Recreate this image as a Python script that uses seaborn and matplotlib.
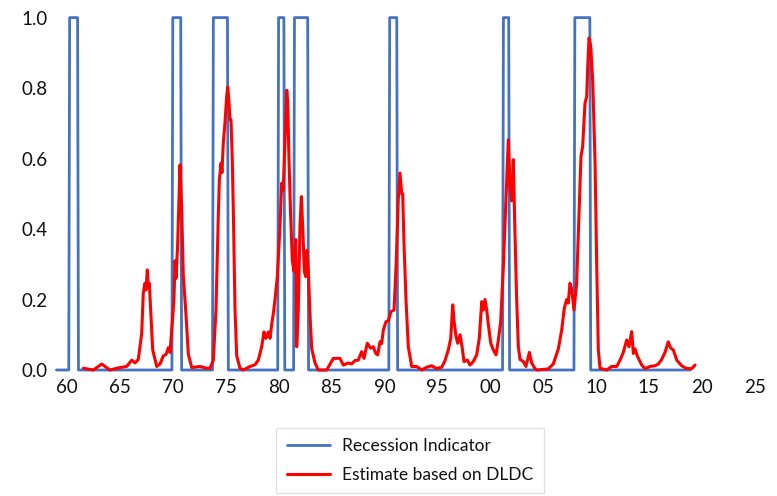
import numpy as np
import pandas as pd
import matplotlib
matplotlib.use("Agg")
import matplotlib.pyplot as plt
from matplotlib.ticker import FixedLocator
import seaborn as sns

# NBER recession periods (first and last month, as decimal years)
recession_start = [1960.25, 1969.917, 1973.833, 1980.0, 1981.5, 1990.5, 2001.167, 2007.917]
recession_end = [1961.083, 1970.833, 1975.167, 1980.5, 1982.833, 1991.167, 2001.833, 2009.417]
indicator_first_year = 1959
indicator_last_year = 2018

# Estimated recession probability based on DLDC
est_year = [
    1961.54, 1962.49, 1963.28, 1964.06, 1965.01, 1965.64, 1966.12, 1966.43, 1966.74,
    1967.06, 1967.21, 1967.37, 1967.47, 1967.59, 1967.68, 1967.78, 1967.91, 1968.10,
    1968.48, 1968.79, 1969.10, 1969.36, 1969.57, 1969.74, 1969.90, 1970.11, 1970.21,
    1970.30, 1970.45, 1970.58, 1970.68, 1970.84, 1970.99, 1971.25, 1971.47, 1971.79,
    1972.57, 1973.20, 1973.52, 1973.83, 1974.08, 1974.30, 1974.40, 1974.56, 1974.65,
    1974.77, 1974.93, 1975.09, 1975.19, 1975.31, 1975.41, 1975.50, 1975.62, 1975.72,
    1975.88, 1976.04, 1976.35, 1976.66, 1977.30, 1977.77, 1978.08, 1978.40, 1978.62,
    1978.81, 1979.03, 1979.19, 1979.35, 1979.50, 1979.66, 1979.88, 1980.13, 1980.29,
    1980.44, 1980.60, 1980.77, 1980.86, 1980.98, 1981.14, 1981.30, 1981.46, 1981.62,
    1981.71, 1981.86, 1982.02, 1982.15, 1982.28, 1982.43, 1982.56, 1982.66, 1982.81,
    1982.97, 1983.13, 1983.44, 1983.75, 1984.55, 1985.17, 1985.49, 1985.80, 1986.12,
    1986.59, 1986.91, 1987.22, 1987.53, 1987.85, 1988.07, 1988.38, 1988.70, 1988.95,
    1989.18, 1989.37, 1989.58, 1989.74, 1989.90, 1990.15, 1990.37, 1990.62, 1990.91,
    1991.10, 1991.31, 1991.47, 1991.64, 1991.73, 1991.85, 1992.04, 1992.26, 1992.58,
    1993.05, 1993.53, 1994.00, 1994.47, 1994.94, 1995.42, 1995.73, 1996.04, 1996.27,
    1996.46, 1996.58, 1996.77, 1996.93, 1997.15, 1997.36, 1997.52, 1997.84, 1998.09,
    1998.40, 1998.72, 1998.97, 1999.20, 1999.35, 1999.51, 1999.67, 1999.82, 2000.05,
    2000.29, 2000.55, 2000.77, 2000.99, 2001.24, 2001.49, 2001.71, 2001.87, 2002.03,
    2002.18, 2002.34, 2002.50, 2002.66, 2002.82, 2003.13, 2003.38, 2003.70, 2003.92,
    2004.23, 2004.40, 2005.49, 2005.96, 2006.44, 2006.76, 2007.00, 2007.23, 2007.38,
    2007.54, 2007.70, 2007.92, 2008.17, 2008.39, 2008.58, 2008.74, 2008.96, 2009.12,
    2009.22, 2009.34, 2009.50, 2009.69, 2009.91, 2010.07, 2010.22, 2010.38, 2011.01,
    2011.48, 2011.96, 2012.27, 2012.58, 2012.90, 2013.12, 2013.37, 2013.53, 2013.69,
    2013.90, 2014.32, 2014.63, 2015.10, 2015.58, 2015.89, 2016.21, 2016.52, 2016.83,
    2017.06, 2017.31, 2017.63, 2018.10, 2018.57, 2019.05, 2019.36,
]
est_prob = [
    0.005, 0.000, 0.017, 0.000, 0.007, 0.010, 0.028, 0.020, 0.030,
    0.104, 0.218, 0.246, 0.227, 0.284, 0.237, 0.246, 0.170, 0.057,
    0.010, 0.017, 0.040, 0.044, 0.063, 0.050, 0.114, 0.200, 0.310,
    0.260, 0.350, 0.480, 0.582, 0.455, 0.270, 0.155, 0.044, 0.007,
    0.010, 0.005, 0.005, 0.028, 0.170, 0.435, 0.540, 0.587, 0.560,
    0.644, 0.700, 0.776, 0.803, 0.760, 0.710, 0.710, 0.600, 0.455,
    0.170, 0.040, 0.005, 0.000, 0.010, 0.015, 0.028, 0.066, 0.108,
    0.090, 0.108, 0.090, 0.130, 0.160, 0.200, 0.265, 0.407, 0.530,
    0.510, 0.644, 0.794, 0.760, 0.600, 0.435, 0.310, 0.280, 0.370,
    0.066, 0.170, 0.407, 0.492, 0.407, 0.280, 0.265, 0.340, 0.280,
    0.155, 0.060, 0.020, 0.000, 0.000, 0.033, 0.033, 0.033, 0.014,
    0.020, 0.017, 0.027, 0.028, 0.052, 0.033, 0.076, 0.062, 0.066,
    0.047, 0.043, 0.080, 0.075, 0.114, 0.137, 0.140, 0.166, 0.170,
    0.293, 0.483, 0.559, 0.500, 0.500, 0.360, 0.200, 0.066, 0.010,
    0.010, 0.000, 0.008, 0.012, 0.004, 0.008, 0.027, 0.057, 0.090,
    0.185, 0.140, 0.095, 0.076, 0.100, 0.062, 0.024, 0.028, 0.014,
    0.024, 0.043, 0.090, 0.194, 0.170, 0.200, 0.170, 0.130, 0.076,
    0.057, 0.043, 0.085, 0.137, 0.293, 0.483, 0.653, 0.520, 0.480,
    0.597, 0.390, 0.200, 0.066, 0.030, 0.024, 0.010, 0.050, 0.020,
    0.004, 0.000, 0.003, 0.017, 0.060, 0.114, 0.175, 0.200, 0.190,
    0.246, 0.230, 0.170, 0.246, 0.435, 0.606, 0.635, 0.757, 0.776,
    0.862, 0.942, 0.920, 0.820, 0.590, 0.293, 0.057, 0.005, 0.000,
    0.010, 0.010, 0.028, 0.050, 0.085, 0.066, 0.109, 0.047, 0.060,
    0.040, 0.014, 0.004, 0.010, 0.012, 0.017, 0.030, 0.050, 0.080,
    0.062, 0.057, 0.028, 0.012, 0.004, 0.004, 0.014,
]

tick_years = list(range(1960, 2030, 5))
tick_labels = ["60", "65", "70", "75", "80", "85", "90", "95",
               "00", "05", "10", "15", "20", "25"]
y_ticks = [0.0, 0.2, 0.4, 0.6, 0.8, 1.0]

# Monthly recession indicator series
months = indicator_first_year + np.arange((indicator_last_year - indicator_first_year + 1) * 12) / 12.0
flag = np.zeros_like(months)
for s, e in zip(recession_start, recession_end):
    flag[(months >= s - 1e-6) & (months <= e + 1e-6)] = 1.0
indicator = pd.DataFrame({"year": months, "value": flag})
estimate = pd.DataFrame({"year": est_year, "value": est_prob})

sns.set_theme(style="white")
plt.rcParams["font.family"] = ["Lato", "DejaVu Sans"]

W, H = 777, 496
fig = plt.figure(figsize=(W / 100, H / 100), dpi=100)
left, right, top, bottom = 56.7, 764, 17.6, 370
ax = fig.add_axes([left / W, 1 - bottom / H, (right - left) / W, (bottom - top) / H])

sns.lineplot(data=indicator, x="year", y="value", ax=ax, color="#4472C4",
             linewidth=2.0, label="Recession Indicator", estimator=None)
sns.lineplot(data=estimate, x="year", y="value", ax=ax, color="#FF0000",
             linewidth=2.2, label="Estimate based on DLDC", estimator=None)
for ln in ax.get_lines():
    ln.set_clip_on(False)

x0 = 1960 + (left - 67) / 10.58
x1 = 1960 + (right - 67) / 10.58
ax.set_xlim(x0, x1)
ax.set_ylim(0, 1)

ax.xaxis.set_major_locator(FixedLocator(tick_years))
ax.set_xticklabels(tick_labels)
ax.xaxis.set_minor_locator(FixedLocator(list(range(1960, 2030, 10))))
ax.yaxis.set_major_locator(FixedLocator(y_ticks))
ax.set_yticklabels([f"{v:.1f}" for v in y_ticks])
ax.yaxis.set_minor_locator(FixedLocator(y_ticks[1:-1]))

ax.grid(False)
ax.grid(which="minor", axis="both", color="#D9D9D9", linewidth=0.9)
ax.set_axisbelow(True)
ax.tick_params(which="both", length=0)
ax.tick_params(axis="x", labelsize=13.5, pad=6.5, colors="#111111")
ax.tick_params(axis="y", labelsize=13.5, pad=6.5, colors="#111111")
for sp in ax.spines.values():
    sp.set_visible(False)
ax.set_xlabel("")
ax.set_ylabel("")

handles, labels = ax.get_legend_handles_labels()
ax.get_legend().remove()
leg = fig.legend(handles, labels, loc="center", bbox_to_anchor=(410 / W, 1 - 460.5 / H),
                 frameon=True, fancybox=False, fontsize=12.5, handlelength=2.5,
                 handletextpad=0.7, labelspacing=0.7, borderpad=0.6)
leg.get_frame().set_edgecolor("#D9D9D9")
leg.get_frame().set_linewidth(0.9)
for t in leg.get_texts():
    t.set_color("#111111")

fig.savefig("out.png", dpi=100)
